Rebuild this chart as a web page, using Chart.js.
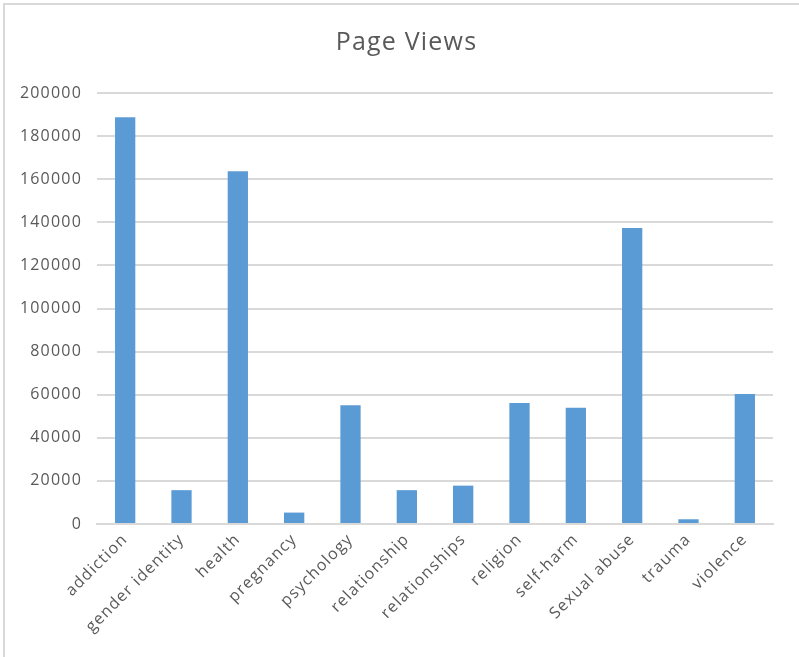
<!DOCTYPE html>
<html>
<head>
    <meta charset='utf-8'>
    <title>Page Views</title>
    <script src='https://cdn.jsdelivr.net/npm/chart.js@4.4.1/dist/chart.umd.min.js'></script>
    <style>
        body { margin: 0; background: #fff; }
        #wrap { position: relative; width: 799px; height: 657px; overflow: hidden; }
        #frame { position: absolute; left: 3px; top: 3px; width: 830px; height: 700px; border: 2px solid #d9d9d9; box-sizing: border-box; }
        canvas { position: absolute; left: 0; top: 0; }
    </style>
</head>
<body>
<div id="wrap">
    <div id="frame"></div>
    <canvas id="myChart" width="799" height="657"></canvas>
</div>
<script>
const categories = ['addiction', 'gender identity', 'health', 'pregnancy', 'psychology', 'relationship',
    'relationships', 'religion', 'self-harm', 'Sexual abuse', 'trauma', 'violence'];
const pageViews = [188800, 15700, 163700, 5300, 55100, 15700, 17800, 56200, 54000, 137400, 2200, 60300];
const yTicks = [0, 20000, 40000, 60000, 80000, 100000, 120000, 140000, 160000, 180000, 200000];

const textColor = '#595959';
const gridColor = '#d9d9d9';

// canvas text is a bit tighter than the reference, widen it a little
const spacing = {
    id: 'spacing',
    beforeLayout(chart) { chart.ctx.letterSpacing = '1.2px'; },
    beforeDraw(chart) { chart.ctx.letterSpacing = '1.2px'; }
};

const ctx = document.getElementById('myChart').getContext('2d');
const myChart = new Chart(ctx, {
    type: 'bar',
    data: {
        labels: categories,
        datasets: [{
            label: 'Page Views',
            data: pageViews,
            backgroundColor: '#5b9bd5',
            borderWidth: 0,
            barPercentage: 0.36,
            categoryPercentage: 1
        }]
    },
    options: {
        responsive: false,
        animation: false,
        layout: { padding: { left: 14, right: 0, top: 0, bottom: 0 } },
        plugins: {
            legend: { display: false },
            tooltip: { enabled: false },
            title: {
                display: true,
                text: 'Page Views',
                color: textColor,
                font: { family: 'Open Sans', size: 25, weight: 'normal' },
                padding: { top: 28, bottom: 35 }
            }
        },
        scales: {
            x: {
                grid: { display: false, drawTicks: false },
                border: { color: gridColor, width: 2 },
                ticks: {
                    color: textColor,
                    font: { family: 'Open Sans', size: 16 },
                    maxRotation: 45,
                    minRotation: 45,
                    padding: 6
                },
                afterFit(scale) { scale.height = 133; }
            },
            y: {
                min: 0,
                max: 200000,
                afterBuildTicks(scale) { scale.ticks = yTicks.map(v => ({ value: v })); },
                grid: { color: gridColor, lineWidth: 2, drawTicks: false },
                border: { display: false },
                ticks: {
                    color: textColor,
                    font: { family: 'Open Sans', size: 16 },
                    padding: 15,
                    callback: v => String(v)
                },
                afterFit(scale) { scale.width = 83; }
            },
            // empty right margin, kept as an axis so the title centres like the reference
            y2: {
                position: 'right',
                grid: { display: false, drawTicks: false },
                border: { display: false },
                ticks: { display: false },
                afterFit(scale) { scale.width = 26; }
            }
        }
    },
    plugins: [spacing]
});
</script>
</body>
</html>
